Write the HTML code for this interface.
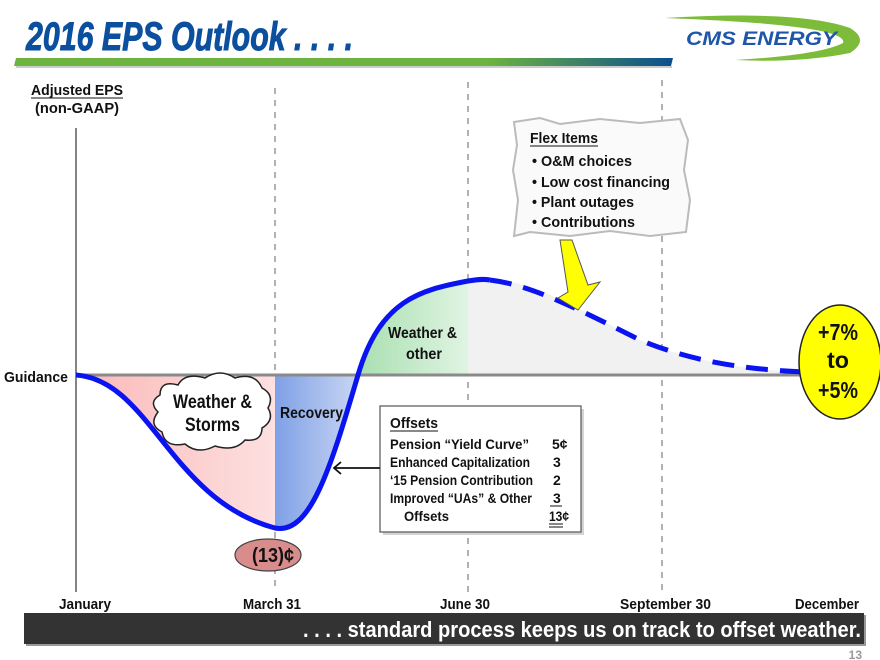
<!DOCTYPE html>
<html><head><meta charset="utf-8"><style>
html,body{margin:0;padding:0;background:#fff}
svg{display:block}
text{font-family:"Liberation Sans Narrow","Liberation Sans",sans-serif;font-weight:bold}
</style></head><body>
<svg width="880" height="660" viewBox="0 0 880 660" xmlns="http://www.w3.org/2000/svg">
<defs>
<linearGradient id="bar" x1="0" x2="1"><stop offset="0" stop-color="#6db33f"/><stop offset="0.72" stop-color="#6db33f"/><stop offset="1" stop-color="#0a4f8f"/></linearGradient>
<linearGradient id="pink" x1="0" x2="1"><stop offset="0" stop-color="#fbb8b8"/><stop offset="1" stop-color="#fde0e0"/></linearGradient>
<linearGradient id="blue" x1="0" x2="1"><stop offset="0" stop-color="#7fa0e6"/><stop offset="1" stop-color="#c9d6f3"/></linearGradient>
<linearGradient id="green" x1="0" x2="1"><stop offset="0" stop-color="#a9dfb0"/><stop offset="1" stop-color="#e0f4e3"/></linearGradient>
</defs>
<text x="26" y="50" font-size="40" font-style="italic" fill="#0b4f9e" stroke="#0b4f9e" stroke-width="1" textLength="327" lengthAdjust="spacingAndGlyphs">2016 EPS Outlook . . . .</text>
<polygon points="16,58 673,58 671,66 14,66" fill="url(#bar)"/>
<rect x="16" y="66" width="656" height="2" fill="#ccc"/>
<path d="M665 18 Q800 10 850 28 Q870 40 850 53 Q800 63 735 60 Q820 55 843 43 Q850 25 665 18Z" fill="#7dbb3a"/>
<text x="686" y="45" font-size="19" font-style="italic" fill="#1f56a8" textLength="151" lengthAdjust="spacingAndGlyphs">CMS ENERGY</text>
<text x="31" y="95" font-size="15" fill="#111" textLength="92" lengthAdjust="spacingAndGlyphs">Adjusted EPS</text>
<line x1="31" y1="98" x2="123" y2="98" stroke="#111" stroke-width="1"/>
<text x="35" y="113" font-size="15" fill="#111" textLength="84" lengthAdjust="spacingAndGlyphs">(non-GAAP)</text>
<line x1="76" y1="128" x2="76" y2="592" stroke="#333" stroke-width="1.2"/>
<g stroke="#888" stroke-width="1.3" stroke-dasharray="6,6">
<line x1="275" y1="88" x2="275" y2="592"/>
<line x1="468" y1="82" x2="468" y2="592"/>
<line x1="662" y1="80" x2="662" y2="592"/>
</g>
<path d="M76 375 C150 380 170 500 275 528 L275 375Z" fill="url(#pink)"/>
<path d="M275 375 L275 528 C310 535 330 470 358 375Z" fill="url(#blue)"/>
<path d="M358 375 C380 300 420 290 468 281 L468 375Z" fill="url(#green)"/>
<path d="M468 375 L468 281 C520 272 560 300 640 340 C700 365 760 370 800 372 L800 375Z" fill="#f1f1f1"/>
<line x1="76" y1="375" x2="805" y2="375" stroke="#8a8a8a" stroke-width="3"/>
<text x="4" y="382" font-size="15" fill="#111" textLength="64" lengthAdjust="spacingAndGlyphs">Guidance</text>
<path d="M76 375 C150 380 170 500 275 528 C310 535 330 470 358 375 C380 300 420 290 468 281 C480 279 485 279 490 280" fill="none" stroke="#0a14f0" stroke-width="5"/>
<path d="M490 280 C530 285 570 305 640 340 C700 365 760 370 805 372" fill="none" stroke="#0a14f0" stroke-width="5" stroke-dasharray="22,12"/>
<ellipse cx="840" cy="362" rx="41" ry="57" fill="#ffff00" stroke="#222" stroke-width="1.5"/>
<text x="838" y="340" font-size="23" text-anchor="middle" fill="#111" textLength="40" lengthAdjust="spacingAndGlyphs">+7%</text>
<text x="838" y="368" font-size="23" text-anchor="middle" fill="#111" textLength="22" lengthAdjust="spacingAndGlyphs">to</text>
<text x="838" y="398" font-size="23" text-anchor="middle" fill="#111" textLength="40" lengthAdjust="spacingAndGlyphs">+5%</text>
<path d="M514 122 L540 118 L560 124 L600 119 L640 123 L680 119 L688 140 L684 170 L690 200 L686 232 L650 236 L610 231 L570 236 L530 232 L514 236 L518 200 L513 170 L517 145Z" fill="#fafafa" stroke="#bbb" stroke-width="2"/>
<text x="530" y="143" font-size="15" fill="#111" textLength="68" lengthAdjust="spacingAndGlyphs">Flex Items</text>
<line x1="530" y1="146" x2="598" y2="146" stroke="#111"/>
<g font-size="15" fill="#111">
<text x="532" y="166" textLength="100" lengthAdjust="spacingAndGlyphs">• O&amp;M choices</text>
<text x="532" y="187" textLength="138" lengthAdjust="spacingAndGlyphs">• Low cost financing</text>
<text x="532" y="207" textLength="102" lengthAdjust="spacingAndGlyphs">• Plant outages</text>
<text x="532" y="227" textLength="103" lengthAdjust="spacingAndGlyphs">• Contributions</text>
</g>
<polygon points="560,240 572,240 588,285 600,282 578,310 558,298 568,292" fill="#ffff00" stroke="#555" stroke-width="1"/>
<path d="M160 395 Q160 380 178 385 Q185 372 205 378 Q220 368 235 378 Q255 372 262 388 Q275 395 268 408 Q275 420 262 428 Q262 442 245 440 Q235 452 215 446 Q198 455 185 444 Q165 448 162 432 Q148 425 158 412 Q148 402 160 395Z" fill="#fff" stroke="#222" stroke-width="1.5"/>
<text x="173" y="408" font-size="19" fill="#111" textLength="79" lengthAdjust="spacingAndGlyphs">Weather &amp;</text>
<text x="185" y="431" font-size="19" fill="#111" textLength="55" lengthAdjust="spacingAndGlyphs">Storms</text>
<text x="280" y="418" font-size="16" fill="#111" textLength="63" lengthAdjust="spacingAndGlyphs">Recovery</text>
<text x="388" y="338" font-size="16" fill="#111" textLength="69" lengthAdjust="spacingAndGlyphs">Weather &amp;</text>
<text x="406" y="359" font-size="16" fill="#111" textLength="36" lengthAdjust="spacingAndGlyphs">other</text>
<ellipse cx="268" cy="555" rx="33" ry="16" fill="#d98c8c" stroke="#444" stroke-width="1.2"/>
<text x="252" y="562" font-size="20" fill="#111" textLength="42" lengthAdjust="spacingAndGlyphs">(13)¢</text>
<rect x="383" y="409" width="201" height="126" fill="#555" opacity="0.25"/>
<rect x="380" y="406" width="201" height="126" fill="#fff" stroke="#555" stroke-width="1.2"/>
<line x1="380" y1="468" x2="334" y2="468" stroke="#111" stroke-width="1.8"/>
<polyline points="341,462 334,468 341,474" fill="none" stroke="#111" stroke-width="1.8"/>
<text x="390" y="428" font-size="15" fill="#111" textLength="48" lengthAdjust="spacingAndGlyphs">Offsets</text>
<line x1="390" y1="431" x2="438" y2="431" stroke="#111"/>
<g font-size="14" fill="#111">
<text x="390" y="449" textLength="139" lengthAdjust="spacingAndGlyphs">Pension “Yield Curve”</text><text x="552" y="449">5¢</text>
<text x="390" y="467" textLength="140" lengthAdjust="spacingAndGlyphs">Enhanced Capitalization</text><text x="553" y="467">3</text>
<text x="390" y="485" textLength="143" lengthAdjust="spacingAndGlyphs">‘15 Pension Contribution</text><text x="553" y="485">2</text>
<text x="390" y="503" textLength="142" lengthAdjust="spacingAndGlyphs">Improved “UAs” &amp; Other</text><text x="553" y="503">3</text>
<text x="404" y="521" textLength="45" lengthAdjust="spacingAndGlyphs">Offsets</text><text x="549" y="521" textLength="20" lengthAdjust="spacingAndGlyphs">13¢</text>
</g>
<line x1="550" y1="506" x2="562" y2="506" stroke="#111"/>
<line x1="549" y1="524" x2="563" y2="524" stroke="#111"/>
<line x1="549" y1="527" x2="563" y2="527" stroke="#111"/>
<g font-size="15" fill="#111">
<text x="59" y="609" textLength="52" lengthAdjust="spacingAndGlyphs">January</text>
<text x="243" y="609" textLength="58" lengthAdjust="spacingAndGlyphs">March 31</text>
<text x="440" y="609" textLength="50" lengthAdjust="spacingAndGlyphs">June 30</text>
<text x="620" y="609" textLength="91" lengthAdjust="spacingAndGlyphs">September 30</text>
<text x="795" y="609" textLength="64" lengthAdjust="spacingAndGlyphs">December</text>
</g>
<rect x="26" y="615" width="840" height="31" fill="#999"/>
<rect x="24" y="613" width="840" height="31" fill="#333"/>
<text x="303" y="637" font-size="22" fill="#fff" textLength="558" lengthAdjust="spacingAndGlyphs">. . . . standard process keeps us on track to offset weather.</text>
<text x="862" y="659" font-size="12" font-weight="normal" text-anchor="end" fill="#999">13</text>
</svg>
</body></html>
